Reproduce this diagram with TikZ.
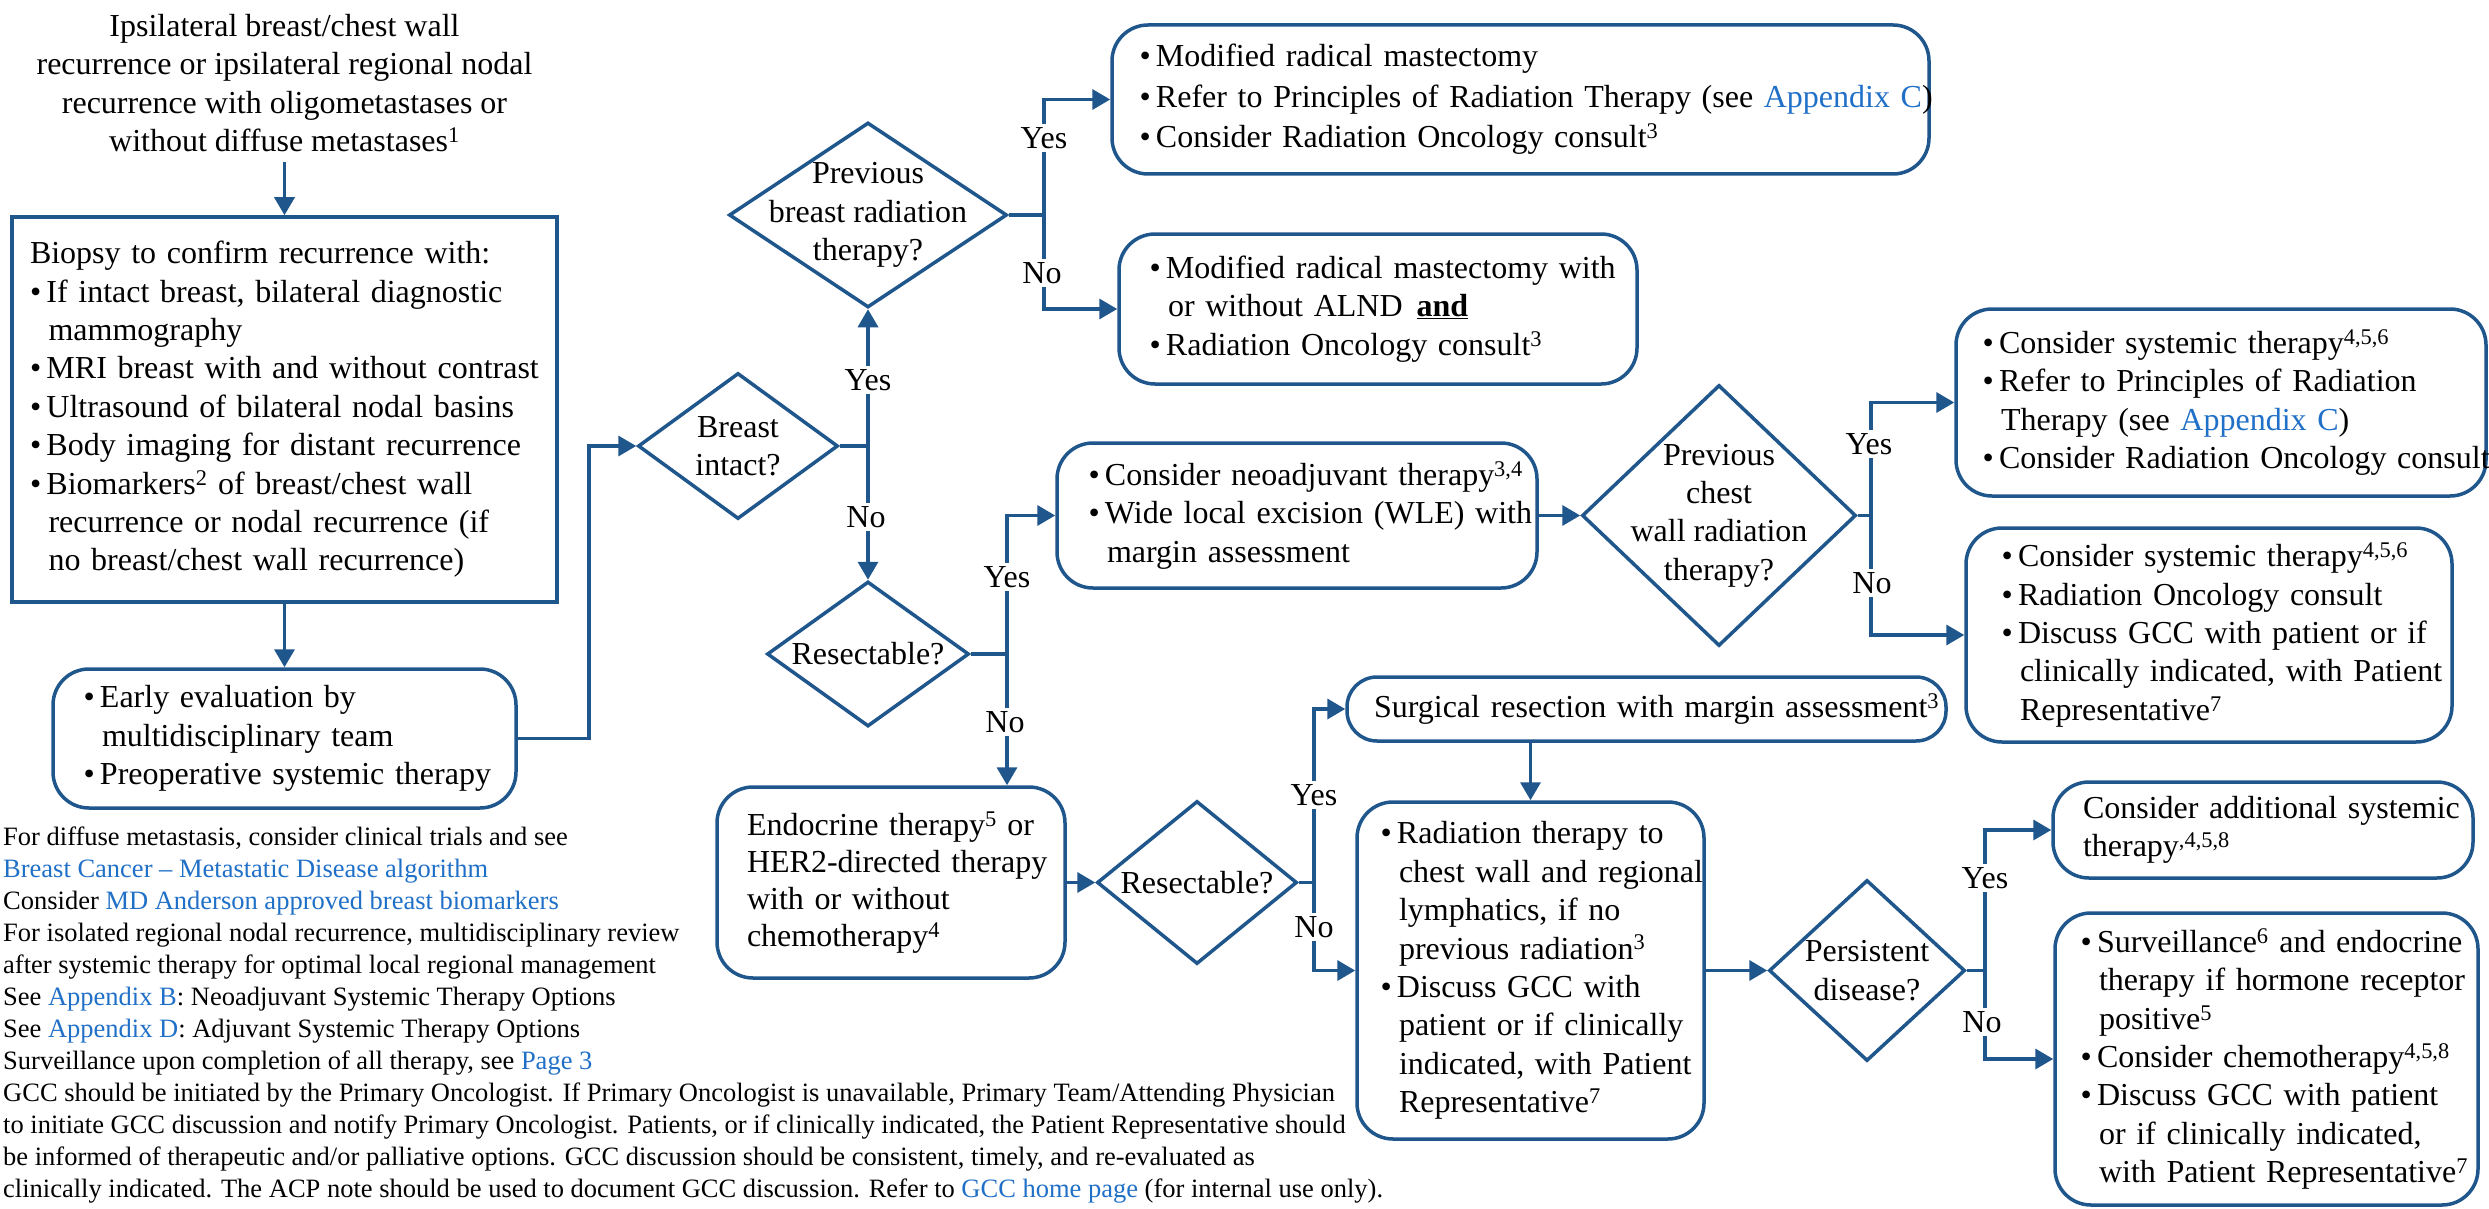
\documentclass[tikz,border=0pt]{standalone}
\usepackage{fontspec}
\setmainfont{Liberation Serif}
\usetikzlibrary{arrows.meta,shapes.geometric}
\definecolor{dblue}{HTML}{1F568C}
\definecolor{lnk}{HTML}{2070C8}
\newlength\bw \setlength\bw{16.5pt}
\newcommand\bl[1]{\mbox{\makebox[\bw][l]{\textbullet}#1}}
\newcommand\cl[1]{\mbox{\hspace*{\bw}\hspace*{2pt}#1}}
\newcommand\pl[1]{\mbox{#1}}
\newcommand\lk[1]{\textcolor{lnk}{#1}}
\newcommand\sups[1]{\textsuperscript{#1}}
\tikzset{
 mainfont/.style={font=\fontsize{32}{38.4}\selectfont},
 box/.style={draw=dblue, line width=3.5pt, rounded corners=36pt, inner ysep=0pt, align=left, mainfont},
 sqbox/.style={draw=dblue, line width=3.5pt, inner ysep=0pt, align=left, mainfont},
 dia/.style={draw=dblue, line width=3.5pt, diamond, inner sep=0pt},
 dtext/.style={align=center, mainfont, inner sep=0pt},
 arr/.style={draw=dblue, line width=3.5pt, -{Triangle[length=18pt,width=20pt]}},
 ln/.style={draw=dblue, line width=3.5pt},
 yn/.style={fill=white, inner sep=3pt, mainfont},
}
\begin{document}
\begin{tikzpicture}[x=1pt,y=-1pt]
\useasboundingbox (0,0) rectangle (2489,1209);
\fill[white] (0,0) rectangle (2489,1209);

% start text
\node[dtext, anchor=north] (start) at (284.5,14) {Ipsilateral breast/chest wall\\recurrence or ipsilateral regional nodal\\recurrence with oligometastases or\\without diffuse metastases\sups{1}};

% biopsy
\node[sqbox, text width=509pt, inner xsep=18pt, minimum height=385pt] (biopsy) at (284.5,409.5) {\pl{Biopsy to confirm recurrence with:}\\
\bl{If intact breast, bilateral diagnostic}\\
\cl{mammography}\\
\bl{MRI breast with and without contrast}\\
\bl{Ultrasound of bilateral nodal basins}\\
\bl{Body imaging for distant recurrence}\\
\bl{Biomarkers\sups{2} of breast/chest wall}\\
\cl{recurrence or nodal recurrence (if}\\
\cl{no breast/chest wall recurrence)}};

% early
\node[box, text width=402pt, inner xsep=30.5pt, minimum height=139pt] (early) at (284.5,738.5) {\bl{Early evaluation by}\\\cl{multidisciplinary team}\\\bl{Preoperative systemic therapy}};

% diamonds
\node[dia, minimum width=200pt, minimum height=146pt] (d1) at (738,446) {};
\node[dtext] (d1t) at (d1.center) {Breast\\intact?};
\node[dia, minimum width=278pt, minimum height=185pt] (d2) at (868,215) {};
\node[dtext] (d2t) at (d2.center) {Previous\\breast radiation\\therapy?};
\node[dia, minimum width=202pt, minimum height=145pt] (d3) at (868,654) {};
\node[dtext] (d3t) at (d3.center) {Resectable?};
\node[dia, minimum width=200pt, minimum height=163pt] (d4) at (1197,882.5) {};
\node[dtext] (d4t) at (d4.center) {Resectable?};
\node[dia, minimum width=274pt, minimum height=261pt] (d5) at (1719,515.5) {};
\node[dtext] (d5t) at (d5.center) {Previous\\chest\\wall radiation\\therapy?};
\node[dia, minimum width=196pt, minimum height=181pt] (d6) at (1867,970.5) {};
\node[dtext] (d6t) at (d6.center) {Persistent\\disease?};

% boxes
\node[box, font=\fontsize{32}{40.5}\selectfont, text width=762pt, inner xsep=27.5pt, minimum height=149pt] (box1) at (1520.5,99.5) {\bl{Modified radical mastectomy}\\
\bl{Refer to Principles of Radiation Therapy (see \lk{Appendix C})}\\
\bl{Consider Radiation Oncology consult\sups{3}}};

\node[box, text width=457pt, inner xsep=30.5pt, minimum height=150pt] (box2) at (1378,309) {\bl{Modified radical mastectomy with}\\
\cl{or without ALND\hspace{14pt}\underline{\textbf{and}}}\\
\bl{Radiation Oncology consult\sups{3}}};

\node[box, text width=417pt, inner xsep=31.5pt, minimum height=145pt] (neo) at (1297,515.5) {\bl{Consider neoadjuvant therapy\sups{3,4}}\\
\bl{Wide local excision (WLE) with}\\
\cl{margin assessment}};

\node[box, text width=477pt, inner xsep=26.5pt, minimum height=187pt] (box3) at (2221,402.5) {\bl{Consider systemic therapy\sups{4,5,6}}\\
\bl{Refer to Principles of Radiation}\\
\cl{Therapy (see \lk{Appendix C})}\\
\bl{Consider Radiation Oncology consult}};

\node[box, text width=415pt, inner xsep=35.5pt, minimum height=214pt] (box4) at (2209,635) {\bl{Consider systemic therapy\sups{4,5,6}}\\
\bl{Radiation Oncology consult}\\
\bl{Discuss GCC with patient or if}\\
\cl{clinically indicated, with Patient}\\
\cl{Representative\sups{7}}};

\node[box, font=\fontsize{32}{37}\selectfont, text width=288pt, inner xsep=30pt, minimum height=191pt] (endo) at (891,882.5) {\pl{Endocrine therapy\sups{5} or}\\\pl{HER2-directed therapy}\\\pl{with or without}\\\pl{chemotherapy\sups{4}}};

\node[box, rounded corners=30pt, text width=545pt, inner xsep=27pt, minimum height=64pt] (surg) at (1646.5,709) {\pl{Surgical resection with margin assessment\sups{3}}};

\node[box, text width=300pt, inner xsep=23.5pt, minimum height=337pt] (rt) at (1530.5,970.5) {\bl{Radiation therapy to}\\\cl{chest wall and regional}\\\cl{lymphatics, if no}\\\cl{previous radiation\sups{3}}\\\bl{Discuss GCC with}\\\cl{patient or if clinically}\\\cl{indicated, with Patient}\\\cl{Representative\sups{7}}};

\node[box, text width=360pt, inner xsep=30pt, minimum height=96pt] (add) at (2263,830) {\pl{Consider additional systemic}\\\pl{therapy\sups{,4,5,8}}};

\node[box, text width=372pt, inner xsep=25.5pt, minimum height=292pt] (final) at (2266.5,1059) {\bl{Surveillance\sups{6} and endocrine}\\\cl{therapy if hormone receptor}\\\cl{positive\sups{5}}\\\bl{Consider chemotherapy\sups{4,5,8}}\\\bl{Discuss GCC with patient}\\\cl{or if clinically indicated,}\\\cl{with Patient Representative\sups{7}}};

% footnotes
\node[anchor=north west, align=left, inner sep=0pt, font=\fontsize{26.5}{32}\selectfont] (notes) at (3,827) {For diffuse metastasis, consider clinical trials and see\\
\lk{Breast Cancer – Metastatic Disease algorithm}\\
Consider \lk{MD Anderson approved breast biomarkers}\\
For isolated regional nodal recurrence, multidisciplinary review\\
after systemic therapy for optimal local regional management\\
See \lk{Appendix B}: Neoadjuvant Systemic Therapy Options\\
See \lk{Appendix D}: Adjuvant Systemic Therapy Options\\
Surveillance upon completion of all therapy, see \lk{Page 3}\\
GCC should be initiated by the Primary Oncologist. If Primary Oncologist is unavailable, Primary Team/Attending Physician\\
to initiate GCC discussion and notify Primary Oncologist. Patients, or if clinically indicated, the Patient Representative should\\
be informed of therapeutic and/or palliative options. GCC discussion should be consistent, timely, and re-evaluated as\\
clinically indicated. The ACP note should be used to document GCC discussion. Refer to \lk{GCC home page} (for internal use only).};

% junction x positions
\coordinate (x1) at (589,0);
\coordinate (x2) at (1044,0);
\coordinate (x3) at (1007,0);
\coordinate (x4) at (1314,0);
\coordinate (x5) at (1871,0);
\coordinate (x6) at (1985,0);

% connectors
\draw[arr] ([yshift=-10pt]start.south) -- (biopsy.north);
\draw[arr] (biopsy.south) -- (early.north);
\draw[arr] (early.east) -| (x1 |- d1.west) -- (d1.west);

\draw[ln] (d1.east) -- (d1.east -| d2.south);
\draw[arr] (d1.east -| d2.south) -- (d2.south);
\draw[arr] (d1.east -| d3.north) -- (d3.north);

\draw[ln] (d2.east) -- (d2.east -| x2);
\draw[arr] (d2.east -| x2) |- (box1.west);
\draw[arr] (d2.east -| x2) |- (box2.west);

\draw[ln] (d3.east) -- (d3.east -| x3);
\draw[arr] (d3.east -| x3) |- (neo.west);
\draw[arr] (d3.east -| x3) -- (x3 |- endo.north);

\draw[arr] (neo.east) -- (neo.east -| d5.west);
\draw[ln] (d5.east) -- (d5.east -| x5);
\draw[arr] (d5.east -| x5) |- (box3.west);
\draw[arr] (d5.east -| x5) |- (box4.west);

\draw[arr] (endo.east) -- (endo.east -| d4.west);
\draw[ln] (d4.east) -- (d4.east -| x4);
\draw[arr] (d4.east -| x4) |- (surg.west);
\draw[arr] (d4.east -| x4) |- (rt.west);
\draw[arr] (rt.north |- surg.south) -- (rt.north);

\draw[arr] (rt.east) -- (rt.east -| d6.west);
\draw[ln] (d6.east) -- (d6.east -| x6);
\draw[arr] (d6.east -| x6) |- (add.west);
\draw[arr] (d6.east -| x6) |- (final.west);

% yes/no labels
\node[yn] (y1) at (868,380) {Yes};
\node[yn] (n1) at (866,517) {No};
\node[yn] (y2) at (1044,138) {Yes};
\node[yn] (n2) at (1042,273) {No};
\node[yn] (y3) at (1007,577) {Yes};
\node[yn] (n3) at (1005,722) {No};
\node[yn] (y5) at (1869,444) {Yes};
\node[yn] (n5) at (1872,583) {No};
\node[yn] (y4) at (1314,795) {Yes};
\node[yn] (n4) at (1314,927) {No};
\node[yn] (y6) at (1985,878) {Yes};
\node[yn] (n6) at (1982,1022) {No};
\end{tikzpicture}
\end{document}
